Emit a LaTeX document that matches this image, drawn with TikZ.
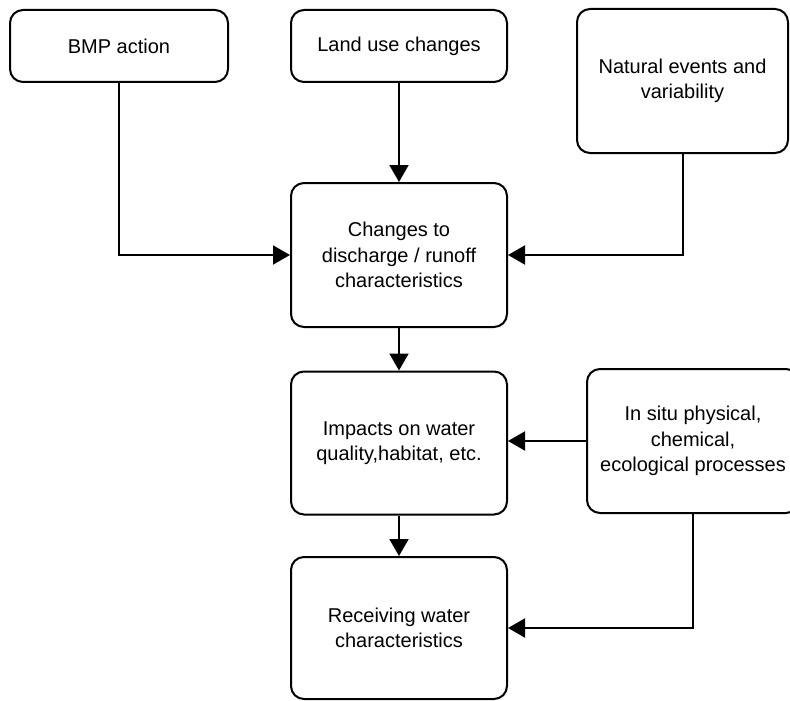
\documentclass[tikz,border=0pt]{standalone}
\usepackage{fontspec}
\setmainfont{Liberation Sans}
\usetikzlibrary{arrows.meta}
\begin{document}
\begin{tikzpicture}[x=1pt,y=-1pt,
  box/.style={draw=black,line width=2pt,rounded corners=13pt,inner sep=0pt,
    align=center,font=\fontsize{20}{25.5}\selectfont},
  arr/.style={draw=black,line width=2pt,-{Triangle[length=17pt,width=19pt]}}]
\clip (0,0) rectangle (790,701);
\node[box,minimum width=218pt,minimum height=72pt] (bmp) at (119,46) {BMP action};
\node[box,minimum width=216pt,minimum height=72pt] (land) at (399,46) {Land use changes};
\node[box,minimum width=211pt,minimum height=144pt] (nat) at (682.5,81) {Natural events and\\variability};
\node[box,minimum width=216pt,minimum height=144pt] (chg) at (399,255) {Changes to\\discharge / runoff\\characteristics};
\node[box,minimum width=216pt,minimum height=143pt] (imp) at (399,443) {Impacts on water\\quality,habitat, etc.};
\node[box,minimum width=212pt,minimum height=144pt] (situ) at (693,441) {In situ physical,\\chemical,\\ecological processes};
\node[box,minimum width=216pt,minimum height=142pt] (rec) at (399,628) {Receiving water\\characteristics};
\draw[arr] (bmp.south) |- (chg.west);
\draw[arr] (land.south) -- (chg.north);
\draw[arr] (nat.south) |- (chg.east);
\draw[arr] (chg.south) -- (imp.north);
\draw[arr] (situ.west) -- (situ.west -| imp.east);
\draw[arr] (imp.south) -- (rec.north);
\draw[arr] (situ.south) |- (rec.east);
\end{tikzpicture}
\end{document}
